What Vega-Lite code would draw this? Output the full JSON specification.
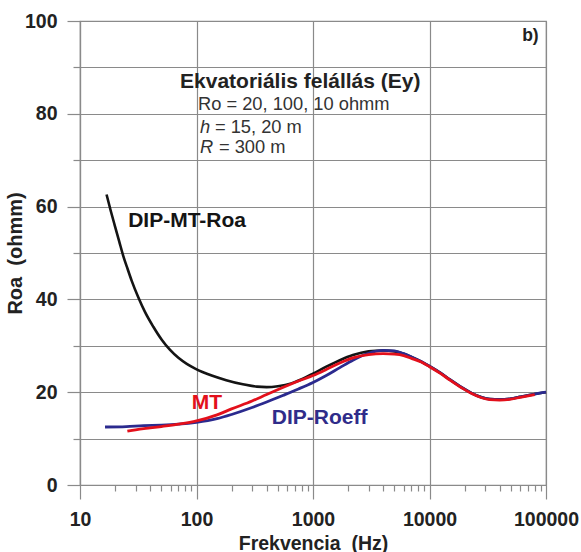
{
  "$schema": "https://vega.github.io/schema/vega-lite/v6.json",
  "width": 466,
  "height": 464,
  "autosize": {"type": "none"},
  "padding": {"left": 80, "top": 21, "right": 35, "bottom": 67},
  "background": "white",
  "config": {
    "font": "Liberation Sans",
    "view": {"stroke": "#8a8a8a", "strokeWidth": 1.2}
  },
  "datasets": {
    "curves": [
      {"series": "DIP-MT-Roa", "f": 16.9, "roa": 62.6},
      {"series": "DIP-MT-Roa", "f": 18.4, "roa": 59.0},
      {"series": "DIP-MT-Roa", "f": 20, "roa": 55.7},
      {"series": "DIP-MT-Roa", "f": 21.7, "roa": 52.5},
      {"series": "DIP-MT-Roa", "f": 23.5, "roa": 49.4},
      {"series": "DIP-MT-Roa", "f": 25.6, "roa": 46.6},
      {"series": "DIP-MT-Roa", "f": 27.8, "roa": 44.0},
      {"series": "DIP-MT-Roa", "f": 31.7, "roa": 40.4},
      {"series": "DIP-MT-Roa", "f": 36.1, "roa": 37.3},
      {"series": "DIP-MT-Roa", "f": 42.6, "roa": 34.1},
      {"series": "DIP-MT-Roa", "f": 50.3, "roa": 31.3},
      {"series": "DIP-MT-Roa", "f": 59.3, "roa": 29.1},
      {"series": "DIP-MT-Roa", "f": 69.9, "roa": 27.4},
      {"series": "DIP-MT-Roa", "f": 82.5, "roa": 26.1},
      {"series": "DIP-MT-Roa", "f": 97.4, "roa": 25.1},
      {"series": "DIP-MT-Roa", "f": 135, "roa": 23.6},
      {"series": "DIP-MT-Roa", "f": 180, "roa": 22.6},
      {"series": "DIP-MT-Roa", "f": 250, "roa": 21.7},
      {"series": "DIP-MT-Roa", "f": 330, "roa": 21.2},
      {"series": "DIP-MT-Roa", "f": 400, "roa": 21.1},
      {"series": "DIP-MT-Roa", "f": 500, "roa": 21.3},
      {"series": "DIP-MT-Roa", "f": 650, "roa": 21.9},
      {"series": "DIP-MT-Roa", "f": 800, "roa": 22.8},
      {"series": "DIP-MT-Roa", "f": 1000, "roa": 24.0},
      {"series": "DIP-MT-Roa", "f": 1300, "roa": 25.5},
      {"series": "DIP-MT-Roa", "f": 1700, "roa": 26.9},
      {"series": "DIP-MT-Roa", "f": 2200, "roa": 28.0},
      {"series": "DIP-MT-Roa", "f": 3000, "roa": 28.8},
      {"series": "DIP-MT-Roa", "f": 4000, "roa": 29.0},
      {"series": "DIP-MT-Roa", "f": 5000, "roa": 28.8},
      {"series": "DIP-MT-Roa", "f": 6000, "roa": 28.3},
      {"series": "DIP-MT-Roa", "f": 7000, "roa": 27.6},
      {"series": "DIP-MT-Roa", "f": 8500, "roa": 26.6},
      {"series": "DIP-MT-Roa", "f": 10000, "roa": 25.6},
      {"series": "DIP-MT-Roa", "f": 12500, "roa": 24.1},
      {"series": "DIP-MT-Roa", "f": 15000, "roa": 22.7},
      {"series": "DIP-MT-Roa", "f": 19000, "roa": 21.0},
      {"series": "DIP-MT-Roa", "f": 23000, "roa": 19.8},
      {"series": "DIP-MT-Roa", "f": 28000, "roa": 18.9},
      {"series": "DIP-MT-Roa", "f": 33000, "roa": 18.5},
      {"series": "DIP-MT-Roa", "f": 40000, "roa": 18.4},
      {"series": "DIP-MT-Roa", "f": 50000, "roa": 18.6},
      {"series": "DIP-MT-Roa", "f": 60000, "roa": 19.0},
      {"series": "DIP-MT-Roa", "f": 80000, "roa": 19.6},
      {"series": "DIP-MT-Roa", "f": 100000, "roa": 20.0},

      {"series": "DIP-Roeff", "f": 16.4, "roa": 12.5},
      {"series": "DIP-Roeff", "f": 25, "roa": 12.6},
      {"series": "DIP-Roeff", "f": 35, "roa": 12.8},
      {"series": "DIP-Roeff", "f": 50, "roa": 12.9},
      {"series": "DIP-Roeff", "f": 70, "roa": 13.1},
      {"series": "DIP-Roeff", "f": 100, "roa": 13.5},
      {"series": "DIP-Roeff", "f": 150, "roa": 14.3},
      {"series": "DIP-Roeff", "f": 200, "roa": 15.2},
      {"series": "DIP-Roeff", "f": 300, "roa": 16.7},
      {"series": "DIP-Roeff", "f": 400, "roa": 17.9},
      {"series": "DIP-Roeff", "f": 550, "roa": 19.3},
      {"series": "DIP-Roeff", "f": 750, "roa": 20.7},
      {"series": "DIP-Roeff", "f": 1000, "roa": 22.1},
      {"series": "DIP-Roeff", "f": 1300, "roa": 23.6},
      {"series": "DIP-Roeff", "f": 1700, "roa": 25.3},
      {"series": "DIP-Roeff", "f": 2200, "roa": 26.9},
      {"series": "DIP-Roeff", "f": 3000, "roa": 28.4},
      {"series": "DIP-Roeff", "f": 4000, "roa": 29.0},
      {"series": "DIP-Roeff", "f": 5000, "roa": 28.9},
      {"series": "DIP-Roeff", "f": 6000, "roa": 28.3},
      {"series": "DIP-Roeff", "f": 7000, "roa": 27.6},
      {"series": "DIP-Roeff", "f": 8500, "roa": 26.6},
      {"series": "DIP-Roeff", "f": 10000, "roa": 25.6},
      {"series": "DIP-Roeff", "f": 12500, "roa": 24.1},
      {"series": "DIP-Roeff", "f": 15000, "roa": 22.7},
      {"series": "DIP-Roeff", "f": 19000, "roa": 21.0},
      {"series": "DIP-Roeff", "f": 23000, "roa": 19.8},
      {"series": "DIP-Roeff", "f": 28000, "roa": 18.9},
      {"series": "DIP-Roeff", "f": 33000, "roa": 18.5},
      {"series": "DIP-Roeff", "f": 40000, "roa": 18.4},
      {"series": "DIP-Roeff", "f": 50000, "roa": 18.6},
      {"series": "DIP-Roeff", "f": 60000, "roa": 19.0},
      {"series": "DIP-Roeff", "f": 80000, "roa": 19.6},
      {"series": "DIP-Roeff", "f": 100000, "roa": 20.0},

      {"series": "MT", "f": 25.5, "roa": 11.6},
      {"series": "MT", "f": 30, "roa": 11.9},
      {"series": "MT", "f": 40, "roa": 12.3},
      {"series": "MT", "f": 50, "roa": 12.6},
      {"series": "MT", "f": 70, "roa": 13.1},
      {"series": "MT", "f": 100, "roa": 13.8},
      {"series": "MT", "f": 150, "roa": 15.1},
      {"series": "MT", "f": 200, "roa": 16.4},
      {"series": "MT", "f": 300, "roa": 18.1},
      {"series": "MT", "f": 400, "roa": 19.5},
      {"series": "MT", "f": 550, "roa": 21.0},
      {"series": "MT", "f": 750, "roa": 22.4},
      {"series": "MT", "f": 1000, "roa": 23.6},
      {"series": "MT", "f": 1300, "roa": 24.9},
      {"series": "MT", "f": 1700, "roa": 26.3},
      {"series": "MT", "f": 2200, "roa": 27.4},
      {"series": "MT", "f": 3000, "roa": 28.1},
      {"series": "MT", "f": 4000, "roa": 28.3},
      {"series": "MT", "f": 5000, "roa": 28.2},
      {"series": "MT", "f": 6000, "roa": 27.9},
      {"series": "MT", "f": 7000, "roa": 27.3},
      {"series": "MT", "f": 8500, "roa": 26.5},
      {"series": "MT", "f": 10000, "roa": 25.5},
      {"series": "MT", "f": 12500, "roa": 24.0},
      {"series": "MT", "f": 15000, "roa": 22.6},
      {"series": "MT", "f": 19000, "roa": 20.9},
      {"series": "MT", "f": 23000, "roa": 19.7},
      {"series": "MT", "f": 28000, "roa": 18.8},
      {"series": "MT", "f": 33000, "roa": 18.4},
      {"series": "MT", "f": 40000, "roa": 18.3},
      {"series": "MT", "f": 50000, "roa": 18.5},
      {"series": "MT", "f": 60000, "roa": 18.9},
      {"series": "MT", "f": 80000, "roa": 19.5}
    ],
    "curveLabels": [
      {"text": "DIP-MT-Roa", "series": "DIP-MT-Roa", "f": 25.9, "roa": 56.8},
      {"text": "DIP-Roeff", "series": "DIP-Roeff", "f": 443, "roa": 14.4},
      {"text": "MT", "series": "MT", "f": 91, "roa": 17.7}
    ],
    "heading": [
      {"text": "Ekvatoriális felállás (Ey)", "f": 72.2, "roa": 86.9}
    ],
    "params": [
      {"text": "Ro = 20, 100, 10 ohmm", "f": 103, "roa": 82.0}
    ],
    "symbols": [
      {"sym": "h", "rest": "= 15, 20 m", "f": 107, "roa": 76.9},
      {"sym": "R", "rest": "= 300 m", "f": 107, "roa": 72.6}
    ],
    "panel": [
      {"text": "b)", "f": 86500, "roa": 96.8}
    ]
  },
  "layer": [
    {
      "data": {"name": "curves"},
      "transform": [{"filter": "datum.series === 'DIP-MT-Roa'"}],
      "mark": {"type": "line", "interpolate": "monotone", "strokeWidth": 2.6, "color": "#141414"},
      "encoding": {
        "x": {
          "field": "f",
          "type": "quantitative",
          "scale": {"type": "log", "domain": [10, 100000]},
          "axis": {
            "title": "Frekvencia\u00a0 (Hz)",
            "values": [10, 20, 30, 40, 50, 60, 70, 80, 90, 100, 200, 300, 400, 500, 600, 700, 800, 900, 1000, 2000, 3000, 4000, 5000, 6000, 7000, 8000, 9000, 10000, 20000, 30000, 40000, 50000, 60000, 70000, 80000, 90000, 100000],
            "labelExpr": "indexof([10, 100, 1000, 10000, 100000], datum.value) >= 0 ? format(datum.value, 'd') : ''",
            "labelOverlap": false,
            "labelFlush": false,
            "labelBound": false,
            "grid": true,
            "gridColor": "#8a8a8a",
            "gridWidth": 1.2,
            "gridOpacity": {"condition": {"test": "indexof([10, 100, 1000, 10000, 100000], datum.value) >= 0", "value": 1}, "value": 0},
            "tickSize": {"condition": {"test": "indexof([10, 100, 1000, 10000, 100000], datum.value) >= 0", "value": 14}, "value": 6},
            "tickColor": "#8a8a8a",
            "tickWidth": 1.2,
            "domainColor": "#8a8a8a",
            "domainWidth": 1.2,
            "labelFont": "Liberation Sans",
            "labelFontSize": 19.5,
            "labelFontWeight": "bold",
            "labelColor": "#222222",
            "labelPadding": 11,
            "titleFont": "Liberation Sans",
            "titleFontSize": 19.5,
            "titleFontWeight": "bold",
            "titleColor": "#222222",
            "titleBaseline": "middle",
            "titleY": 58
          }
        },
        "y": {
          "field": "roa",
          "type": "quantitative",
          "scale": {"domain": [0, 100]},
          "axis": {
            "title": "Roa\u00a0 (ohmm)",
            "values": [0, 10, 20, 30, 40, 50, 60, 70, 80, 90, 100],
            "labelExpr": "datum.value % 20 === 0 ? datum.label : ''",
            "labelOverlap": false,
            "labelFlush": false,
            "labelBound": false,
            "grid": true,
            "gridColor": "#8a8a8a",
            "gridWidth": 1.2,
            "tickSize": {"condition": {"test": "datum.value % 20 === 0", "value": 13}, "value": 7},
            "tickColor": "#8a8a8a",
            "tickWidth": 1.2,
            "domainColor": "#8a8a8a",
            "domainWidth": 1.2,
            "labelFont": "Liberation Sans",
            "labelFontSize": 19.5,
            "labelFontWeight": "bold",
            "labelColor": "#222222",
            "labelPadding": 10,
            "titleFont": "Liberation Sans",
            "titleFontSize": 20,
            "titleFontWeight": "bold",
            "titleColor": "#222222",
            "titleBaseline": "middle",
            "titleX": -65
          }
        }
      }
    },
    {
      "data": {"name": "curves"},
      "transform": [{"filter": "datum.series === 'DIP-Roeff'"}],
      "mark": {"type": "line", "interpolate": "monotone", "strokeWidth": 2.8, "color": "#2b2a8e"},
      "encoding": {
        "x": {"field": "f", "type": "quantitative"},
        "y": {"field": "roa", "type": "quantitative"}
      }
    },
    {
      "data": {"name": "curves"},
      "transform": [{"filter": "datum.series === 'MT'"}],
      "mark": {"type": "line", "interpolate": "monotone", "strokeWidth": 2.8, "color": "#e3101b"},
      "encoding": {
        "x": {"field": "f", "type": "quantitative"},
        "y": {"field": "roa", "type": "quantitative"}
      }
    },
    {
      "data": {"name": "curveLabels"},
      "mark": {"type": "text", "align": "left", "baseline": "middle", "font": "Liberation Sans", "fontSize": 21, "fontWeight": "bold"},
      "encoding": {
        "x": {"field": "f", "type": "quantitative"},
        "y": {"field": "roa", "type": "quantitative"},
        "text": {"field": "text"},
        "color": {
          "field": "series",
          "type": "nominal",
          "scale": {"domain": ["DIP-MT-Roa", "DIP-Roeff", "MT"], "range": ["#141414", "#2f2c8a", "#e3101b"]},
          "legend": null
        }
      }
    },
    {
      "data": {"name": "heading"},
      "mark": {"type": "text", "align": "left", "baseline": "middle", "font": "Liberation Sans", "fontSize": 21, "fontWeight": "bold", "color": "#222222"},
      "encoding": {
        "x": {"field": "f", "type": "quantitative"},
        "y": {"field": "roa", "type": "quantitative"},
        "text": {"field": "text"}
      }
    },
    {
      "data": {"name": "params"},
      "mark": {"type": "text", "align": "left", "baseline": "middle", "font": "Liberation Sans", "fontSize": 18.3, "color": "#333333"},
      "encoding": {
        "x": {"field": "f", "type": "quantitative"},
        "y": {"field": "roa", "type": "quantitative"},
        "text": {"field": "text"}
      }
    },
    {
      "data": {"name": "symbols"},
      "mark": {"type": "text", "align": "left", "baseline": "middle", "font": "Liberation Sans", "fontSize": 18.3, "fontStyle": "italic", "color": "#333333"},
      "encoding": {
        "x": {"field": "f", "type": "quantitative"},
        "y": {"field": "roa", "type": "quantitative"},
        "text": {"field": "sym"}
      }
    },
    {
      "data": {"name": "symbols"},
      "transform": [{"filter": "datum.sym === 'h'"}],
      "mark": {"type": "text", "align": "left", "baseline": "middle", "font": "Liberation Sans", "fontSize": 18.3, "color": "#333333", "dx": 15},
      "encoding": {
        "x": {"field": "f", "type": "quantitative"},
        "y": {"field": "roa", "type": "quantitative"},
        "text": {"field": "rest"}
      }
    },
    {
      "data": {"name": "symbols"},
      "transform": [{"filter": "datum.sym === 'R'"}],
      "mark": {"type": "text", "align": "left", "baseline": "middle", "font": "Liberation Sans", "fontSize": 18.3, "color": "#333333", "dx": 19},
      "encoding": {
        "x": {"field": "f", "type": "quantitative"},
        "y": {"field": "roa", "type": "quantitative"},
        "text": {"field": "rest"}
      }
    },
    {
      "data": {"name": "panel"},
      "mark": {"type": "text", "align": "right", "baseline": "middle", "font": "Liberation Sans", "fontSize": 17.5, "fontWeight": "bold", "color": "#222222"},
      "encoding": {
        "x": {"field": "f", "type": "quantitative"},
        "y": {"field": "roa", "type": "quantitative"},
        "text": {"field": "text"}
      }
    }
  ]
}
